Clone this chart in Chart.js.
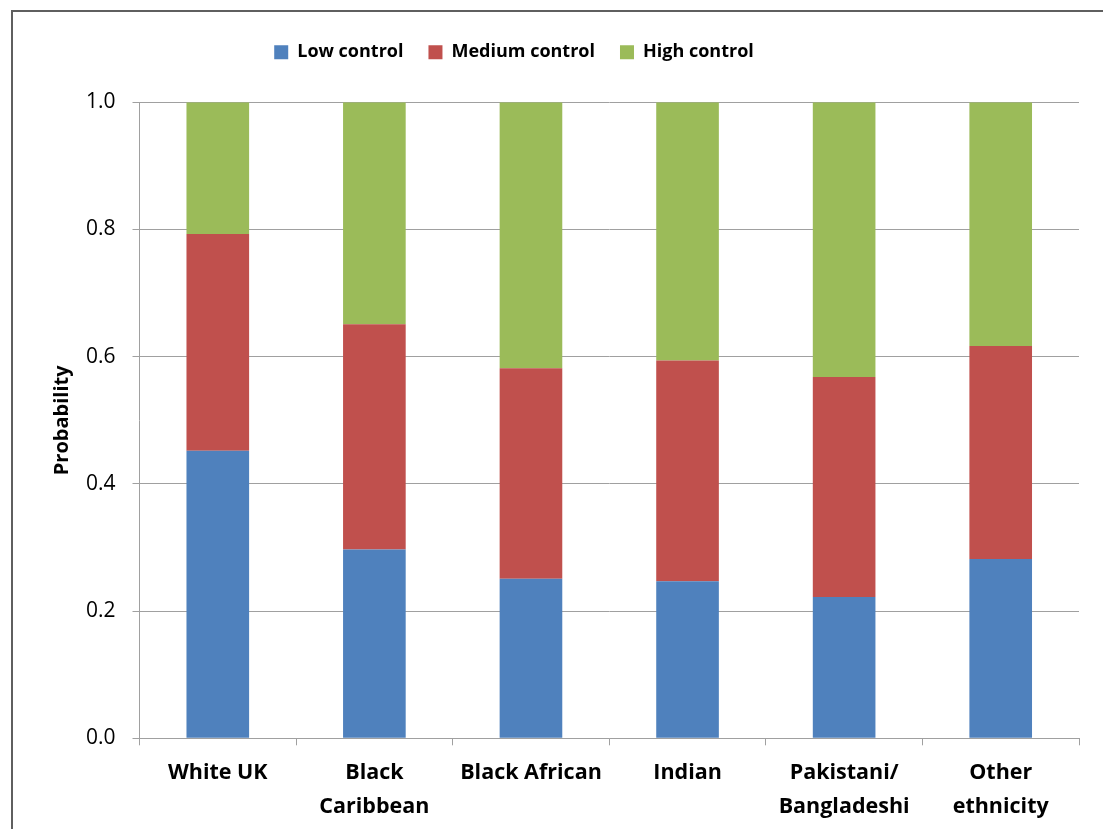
<!DOCTYPE html>
<html>
<head>
<meta charset="utf-8">
<title>Probability of job control by ethnicity</title>
<script src="https://cdn.jsdelivr.net/npm/chart.js@4/dist/chart.umd.min.js"></script>
<style>
  html, body { margin: 0; padding: 0; background: #fff; overflow: hidden; }
  #wrap { position: relative; width: 1103px; height: 829px; }
  #frame {
    position: absolute; left: 11px; top: 10px; width: 1200px; height: 1000px;
    border: 2px solid #5f5f5f; box-sizing: border-box; pointer-events: none;
  }
  canvas { position: absolute; left: 0; top: 0; }
</style>
</head>
<body>
<div id="wrap">
  <canvas id="chart" width="1103" height="829"></canvas>
  <div id="frame"></div>
</div>
<script>
// Ethnic groups on the x axis (multi-line labels as arrays)
const categories = [
  'White UK',
  ['Black', 'Caribbean'],
  'Black African',
  'Indian',
  ['Pakistani/', 'Bangladeshi'],
  ['Other', 'ethnicity']
];

// Predicted probability of each level of job control
const lowControl    = [0.452, 0.297, 0.251, 0.247, 0.222, 0.282];
const mediumControl = [0.341, 0.354, 0.331, 0.347, 0.346, 0.335];
const highControl   = [0.207, 0.349, 0.418, 0.406, 0.432, 0.383];

// Y axis ticks
const yTicks = [0.0, 0.2, 0.4, 0.6, 0.8, 1.0];

const FONT = "'Open Sans', 'DejaVu Sans', sans-serif";
const GRID = '#a0a0a0';

// Geometry of the plot frame
const PLOT_TOP = 102.3;
const PLOT_BOTTOM = 738.3;
const PLOT_LEFT = 139.5;
const PAD_LEFT = 50;
const LEGEND_CENTER_X = 514;
const LEGEND_DY = -31;

// Places the legend row: centred on a chosen x and lifted above the plot
const legendShift = {
  id: 'legendShift',
  afterLayout(chart) {
    const L = chart.legend;
    if (!L || !L.lineWidths) return;
    const pad = L.options.labels.padding;
    const lw = L.lineWidths[0] - pad;
    const start = (L.left + pad + L.right - L.lineWidths[0]) / 2;
    const dx = (LEGEND_CENTER_X - lw / 2) - start;
    L.left += dx;
    L.right += dx;
    L.top += LEGEND_DY;
    L.bottom += LEGEND_DY;
  }
};

new Chart(document.getElementById('chart'), {
  type: 'bar',
  data: {
    labels: categories,
    datasets: [
      { label: 'Low control',    data: lowControl,    backgroundColor: '#4f81bd' },
      { label: 'Medium control', data: mediumControl, backgroundColor: '#c0504d' },
      { label: 'High control',   data: highControl,   backgroundColor: '#9bbb59' }
    ]
  },
  options: {
    responsive: false,
    animation: false,
    events: [],
    datasets: { bar: { barPercentage: 0.4, categoryPercentage: 1.0 } },
    layout: { padding: { left: PAD_LEFT, right: 24, top: 11, bottom: 0 } },
    plugins: {
      tooltip: { enabled: false },
      legend: {
        position: 'top',
        labels: {
          boxWidth: 14,
          boxHeight: 14,
          padding: 25,
          color: '#000',
          font: { family: FONT, size: 18, weight: 'bold' }
        }
      }
    },
    scales: {
      x: {
        stacked: true,
        offset: true,
        grid: {
          display: true,
          offset: true,
          drawOnChartArea: false,
          drawTicks: true,
          tickLength: 7,
          color: GRID,
          lineWidth: 1
        },
        border: { display: true, color: GRID, width: 1 },
        ticks: {
          color: '#000',
          padding: 11,
          maxRotation: 0,
          autoSkip: false,
          font: { family: FONT, size: 21.5, weight: 'bold', lineHeight: 1.56 }
        },
        afterFit(scale) { scale.height = 829 - PLOT_BOTTOM; }
      },
      y: {
        stacked: true,
        min: 0,
        max: 1,
        afterBuildTicks(scale) { scale.ticks = yTicks.map(v => ({ value: v })); },
        grid: {
          color: GRID,
          lineWidth: 1,
          drawTicks: true,
          tickLength: 7
        },
        border: { display: true, color: GRID, width: 1 },
        ticks: {
          color: '#000',
          padding: 17,
          font: { family: FONT, size: 21 },
          callback: v => Number(v).toFixed(1)
        },
        title: {
          display: true,
          text: 'Probability',
          color: '#000',
          padding: 0,
          font: { family: FONT, size: 20, weight: 'bold', lineHeight: 1.2 }
        },
        afterFit(scale) {
          scale.width = PLOT_LEFT - PAD_LEFT;
          scale.paddingTop = PLOT_TOP;
        }
      }
    }
  },
  plugins: [legendShift]
});
</script>
</body>
</html>
